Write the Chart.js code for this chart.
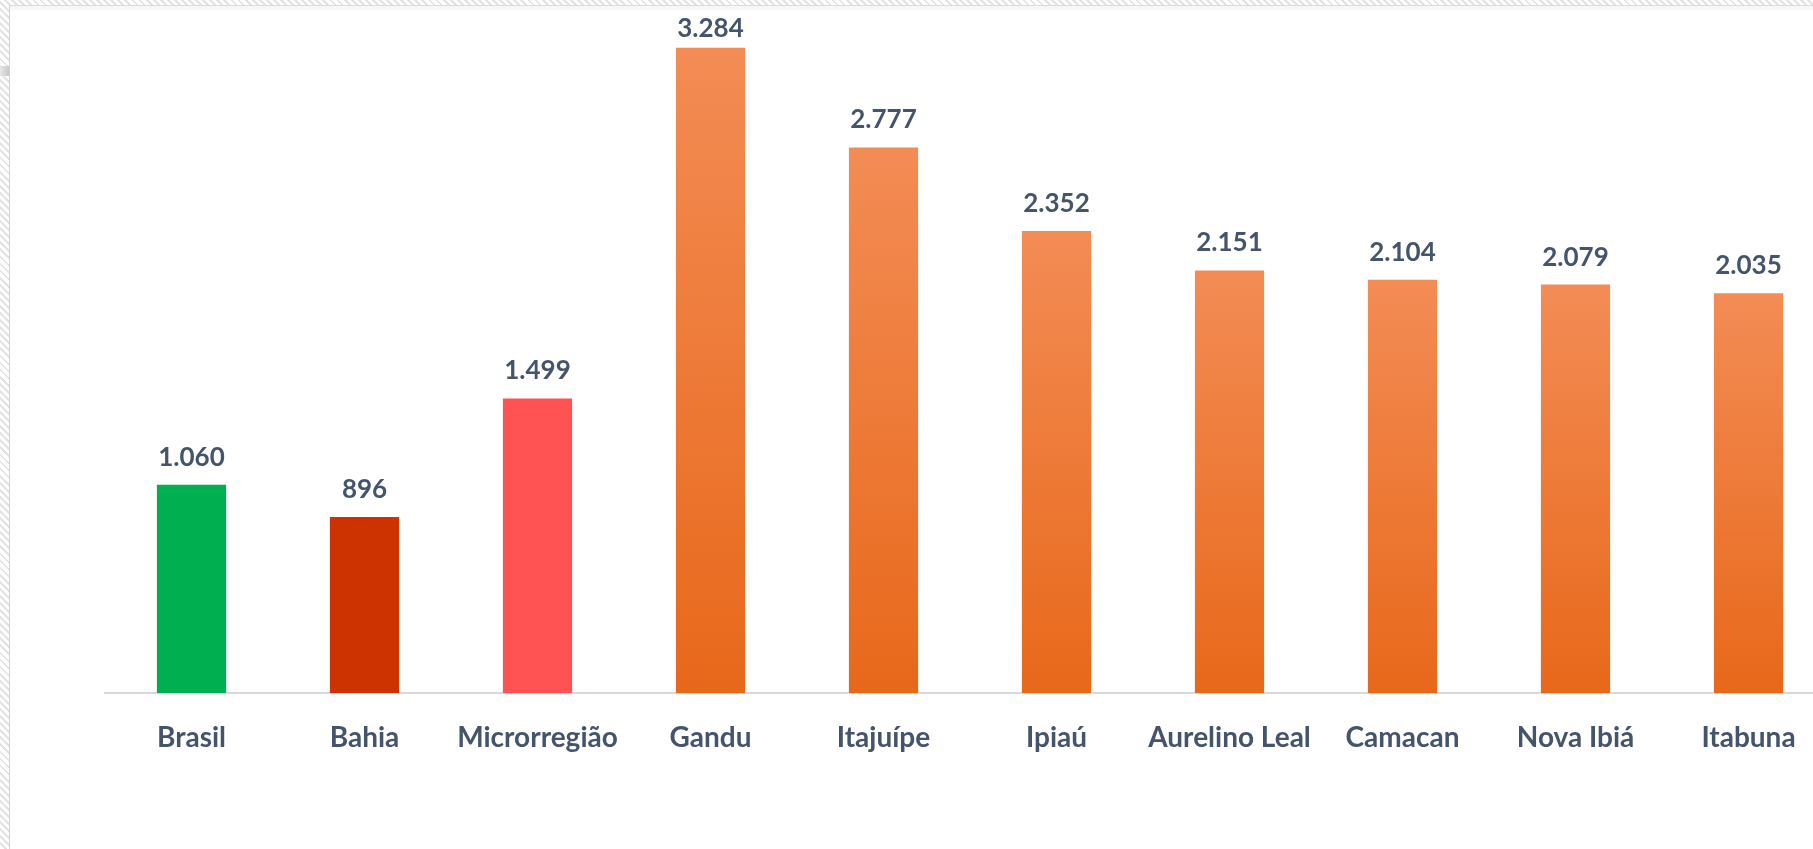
<!DOCTYPE html>
<html>
<head>
<meta charset="utf-8">
<script src="https://cdn.jsdelivr.net/npm/chart.js@4.4.1/dist/chart.umd.min.js"></script>
<style>
  html, body { margin: 0; padding: 0; width: 1813px; height: 849px; overflow: hidden; background: #ffffff; }
  #frame {
    position: absolute; left: 0; top: 0; width: 1813px; height: 849px; overflow: hidden;
    background: repeating-linear-gradient(45deg, #ffffff 0px, #ffffff 3px, #e3e3e3 3px, #e3e3e3 5px);
  }
  #panel {
    position: absolute; left: 9px; top: 5px; right: 0; bottom: 0;
    background: #ffffff;
    border-left: 1px solid #d4d4d4;
    border-top: 1px solid #dcdcdc;
    box-shadow: inset 0 4px 0 #f7f7f7;
  }
  #tab { position: absolute; left: 0; top: 66px; width: 9px; height: 10px; background: linear-gradient(90deg, #e6e6e6, #c8c8c8); }
  #wrap { position: absolute; left: 0; top: 0; width: 1813px; height: 849px; overflow: hidden; }
  #c { position: absolute; left: 0; top: 0; }
</style>
</head>
<body>
<div id="frame">
  <div id="panel"></div>
  <div id="tab"></div>
  <div id="wrap"><canvas id="c" width="1840" height="849"></canvas></div>
</div>
<script>
const categories = ["Brasil", "Bahia", "Microrregião", "Gandu", "Itajuípe", "Ipiaú", "Aurelino Leal", "Camacan", "Nova Ibiá", "Itabuna"];
const values = [1060, 896, 1499, 3284, 2777, 2352, 2151, 2104, 2079, 2035];
const valueLabels = ["1.060", "896", "1.499", "3.284", "2.777", "2.352", "2.151", "2.104", "2.079", "2.035"];
const solidColors = ["#00B050", "#CC3300", "#FF5353", null, null, null, null, null, null, null];
const gradientTop = "#F38C55";
const gradientBottom = "#E8681A";
const textColor = "#44546A";
const fontFamily = "Lato, 'Open Sans', sans-serif";

const valueLabelPlugin = {
  id: 'valueLabels',
  afterDatasetsDraw(chart) {
    const ctx = chart.ctx;
    const meta = chart.getDatasetMeta(0);
    ctx.save();
    ctx.font = "bold 26px " + fontFamily;
    ctx.fillStyle = textColor;
    ctx.textAlign = 'center';
    ctx.textBaseline = 'alphabetic';
    meta.data.forEach((bar, i) => {
      let y = bar.y - 19;
      y = Math.max(y, chart.chartArea.top + 12);
      ctx.fillText(valueLabels[i], bar.x, y);
    });
    ctx.restore();
  }
};

function barColor(context) {
  const i = context.dataIndex;
  if (solidColors[i]) return solidColors[i];
  const chart = context.chart;
  const yScale = chart.scales.y;
  if (!yScale || !chart.chartArea) return gradientBottom;
  const top = yScale.getPixelForValue(values[i]);
  const bottom = yScale.getPixelForValue(0);
  const g = chart.ctx.createLinearGradient(0, top, 0, bottom);
  g.addColorStop(0, gradientTop);
  g.addColorStop(1, gradientBottom);
  return g;
}

new Chart(document.getElementById('c'), {
  type: 'bar',
  data: {
    labels: categories,
    datasets: [{
      data: values,
      backgroundColor: barColor,
      borderWidth: 0,
      barPercentage: 0.8,
      categoryPercentage: 0.5
    }]
  },
  options: {
    responsive: false,
    animation: false,
    devicePixelRatio: 1,
    layout: { padding: { left: 105, right: 5, top: 25, bottom: 0 } },
    plugins: { legend: { display: false }, tooltip: { enabled: false } },
    scales: {
      x: {
        grid: { display: false, drawTicks: false },
        border: { display: true, color: '#D9D9D9', width: 2 },
        ticks: {
          color: textColor,
          font: { family: fontFamily, size: 28, weight: 'bold' },
          padding: 28,
          maxRotation: 0,
          autoSkip: false
        },
        afterFit(scale) { scale.height = 156; }
      },
      y: {
        display: false,
        min: 0,
        max: 3400
      }
    }
  },
  plugins: [valueLabelPlugin]
});
</script>
</body>
</html>
